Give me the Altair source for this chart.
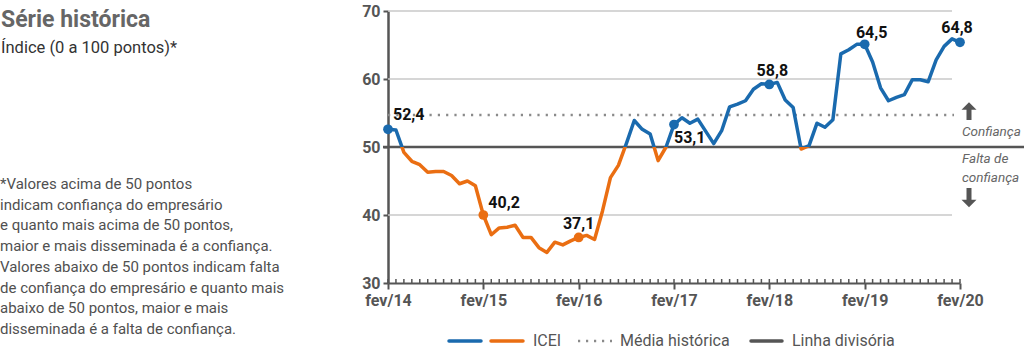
import json
import altair as alt
import pandas as pd

# ---------------- data ----------------
TICK_LABELS = ["fev/14", "fev/15", "fev/16", "fev/17", "fev/18", "fev/19", "fev/20"]
ICEI = [52.6, 52.5, 49.2, 47.9, 47.4, 46.3, 46.4, 46.4, 45.8, 44.6, 45.0, 44.3,
        40.0, 37.1, 38.1, 38.2, 38.5, 36.7, 36.7, 35.2, 34.5, 36.0, 35.6, 36.2,
        36.7, 37.0, 36.4, 40.6, 45.5, 47.3, 50.5, 53.9, 52.6, 51.9, 48.0, 50.0,
        53.3, 54.3, 53.5, 54.1, 52.3, 50.5, 52.4, 55.9, 56.3, 56.8, 58.5, 59.3,
        59.2, 59.5, 56.9, 55.8, 49.7, 50.2, 53.5, 52.9, 54.0, 63.7, 64.3, 65.1,
        65.1, 62.5, 58.7, 56.8, 57.3, 57.7, 59.9, 59.9, 59.6, 62.8, 64.8, 65.9,
        65.4]
LABEL_MONTHS = [0, 12, 24, 36, 48, 60, 72]
LABEL_TEXTS = ["52,4", "40,2", "37,1", "53,1", "58,8", "64,5", "64,8"]
MEAN = 54.7
DIVIDE = 50
GRID_LEVELS = [40, 60, 70]
Y_TICKS = [30, 40, 50, 60, 70]
NOTE_LINES = [
    "*Valores acima de 50 pontos",
    "indicam confiança do empresário",
    "e quanto mais acima de 50 pontos,",
    "maior e mais disseminada é a confiança.",
    "Valores abaixo de 50 pontos indicam falta",
    "de confiança do empresário e quanto mais",
    "abaixo de 50 pontos, maior e mais",
    "disseminada é a falta de confiança.",
]
TITLE = "Série histórica"
SUBTITLE = "Índice (0 a 100 pontos)*"

# ---------------- styling ----------------
BLUE = "#1a6aae"
ORANGE = "#ea6e12"
DARK = "#555555"
GRID = "#c8c8c8"
DOT = "#8a8a8a"
FONT = "Roboto"

W, H = 572, 272
L, T = 388, 11
R = 1024 - L - W
B = 353 - T - H

N = len(ICEI)
df = pd.DataFrame({"m": list(range(N)), "v": ICEI})

xs = alt.Scale(domain=[0, N - 1], nice=False, zero=False)
ys = alt.Scale(domain=[30, 70], nice=False, zero=False)

label_expr = json.dumps(TICK_LABELS) + "[round(datum.value / 12)]"

x_axis = alt.Axis(values=list(range(0, N, 12)), labelExpr=label_expr, title=None,
                  grid=False, tickSize=6, tickWidth=2, tickColor=DARK,
                  domainColor=DARK, domainWidth=2, labelFont=FONT,
                  labelFontWeight="bold", labelFontSize=16, labelColor=DARK,
                  labelPadding=3, labelFlush=False)
y_axis = alt.Axis(values=Y_TICKS, title=None, grid=False, tickSize=5, tickWidth=2,
                  tickColor=DARK, domainColor=DARK, domainWidth=2.5,
                  labelFont=FONT, labelFontWeight="bold", labelFontSize=16,
                  labelColor=DARK, labelPadding=3)


def XQ(field):
    return alt.X(field, type="quantitative", scale=xs, axis=x_axis)


def YQ(field):
    return alt.Y(field, type="quantitative", scale=ys, axis=y_axis)


# light grid lines
grid = alt.Chart(pd.DataFrame({"g": GRID_LEVELS})).mark_rule(
    color=GRID, strokeWidth=1.5).encode(
    y=YQ("g"), x=alt.value(0), x2=alt.value(564))

# historical mean (dotted)
mean_rule = alt.Chart(pd.DataFrame({"a": [MEAN]})).mark_rule(
    color=DOT, strokeWidth=2.5, strokeDash=[2.2, 6.1]).encode(
    y=YQ("a"), x=alt.value(0), x2=alt.value(566))

# dividing line at 50
divide_rule = alt.Chart(pd.DataFrame({"a": [DIVIDE]})).mark_rule(
    color=DARK, strokeWidth=2.5).encode(
    y=YQ("a"), x=alt.value(-5), x2=alt.value(1024 - L))

# monthly minor ticks
minor = alt.Chart(pd.DataFrame({"m": list(range(N))})).mark_rule(
    color=DARK, strokeWidth=1.5).encode(
    x=XQ("m"), y=alt.value(H - 4), y2=alt.value(H))

# line coloured blue above 50, orange below
vmax, vmin = max(ICEI), min(ICEI)
off = (vmax - DIVIDE) / (vmax - vmin)
grad = alt.Gradient(gradient="linear", x1=0, x2=0, y1=0, y2=1, stops=[
    alt.GradientStop(color=BLUE, offset=0),
    alt.GradientStop(color=BLUE, offset=off),
    alt.GradientStop(color=ORANGE, offset=off),
    alt.GradientStop(color=ORANGE, offset=1),
])
line = alt.Chart(df).mark_line(color=grad, strokeWidth=3.5, strokeJoin="round").encode(
    x=XQ("m"), y=YQ("v"))

lab_df = pd.DataFrame({"m": LABEL_MONTHS, "v": [ICEI[i] for i in LABEL_MONTHS],
                       "t": LABEL_TEXTS})
dots = alt.Chart(lab_df).mark_circle(size=95, opacity=1).encode(
    x=XQ("m"), y=YQ("v"),
    color=alt.condition(f"datum.v >= {DIVIDE}", alt.value(BLUE), alt.value(ORANGE)))

# per-label offsets (dx, dy, align)
LABEL_STYLE = [(5, -14, "left"), (5, -12, "left"), (0, -13, "center"),
               (0, 13.5, "left"), (3, -13, "center"), (7, -11, "center"),
               (-3, -14, "center")]
label_layers = []
for m, (dx, dy, al) in zip(LABEL_MONTHS, LABEL_STYLE):
    label_layers.append(
        alt.Chart(lab_df).transform_filter(f"datum.m == {m}").mark_text(
            dx=dx, dy=dy, align=al, baseline="middle", font=FONT,
            fontWeight="bold", fontSize=16, color="#111111").encode(
            x=XQ("m"), y=YQ("v"), text="t:N"))

one = pd.DataFrame({"k": [0]})


def txt(text, x, y, size, color, weight="normal", style="normal", align="left",
        baseline="alphabetic", font=FONT, line_height=None):
    kw = dict(text=text, align=align, baseline=baseline, font=font, fontSize=size,
              color=color, fontWeight=weight, fontStyle=style)
    if line_height is not None:
        kw["lineHeight"] = line_height
    return alt.Chart(one).mark_text(**kw).encode(x=alt.value(x), y=alt.value(y))


def seg(x1, x2, y, color, width, dash=None, cap="round"):
    kw = dict(color=color, strokeWidth=width, strokeCap=cap)
    if dash is not None:
        kw["strokeDash"] = dash
    return alt.Chart(one).mark_rule(**kw).encode(
        x=alt.value(x1), x2=alt.value(x2), y=alt.value(y))


def vseg(x, y1, y2, color, width):
    return alt.Chart(one).mark_rule(color=color, strokeWidth=width, strokeCap="butt").encode(
        x=alt.value(x), y=alt.value(y1), y2=alt.value(y2))


def head(x, y, up=True):
    path = "M-1,0.5L1,0.5L0,-0.5Z" if up else "M-1,-0.5L1,-0.5L0,0.5Z"
    return alt.Chart(one).mark_point(shape=path, filled=True, size=225, color=DARK,
                                     opacity=1, strokeWidth=0).encode(
        x=alt.value(x), y=alt.value(y))


texts = [
    txt(TITLE, -387, 16, 23, "#666666", weight="bold"),
    txt(SUBTITLE, -387, 42, 16.5, "#333333"),
    txt(NOTE_LINES, -388, 178, 15, "#505050", line_height=20.7),
    txt("Confiança", 574, 121, 13.5, "#666666", style="italic", baseline="middle"),
    txt(["Falta de", "confiança"], 574, 148, 13.5, "#666666", style="italic",
        baseline="middle", line_height=19),
    vseg(581, 97, 109, DARK, 5), head(581, 95, up=True),
    vseg(581, 177, 189, DARK, 5), head(581, 192.5, up=False),
]

legend = [
    seg(61, 93, 330, BLUE, 3.5),
    seg(103, 135, 330, ORANGE, 3.5),
    txt("ICEI", 145, 330, 16, DARK, baseline="middle"),
    seg(190, 224, 330, DOT, 2.5, dash=[2.2, 5.8], cap="butt"),
    txt("Média histórica", 232, 330, 16, DARK, baseline="middle"),
    seg(363, 394, 330, DARK, 3.5),
    txt("Linha divisória", 404, 330, 16, DARK, baseline="middle"),
]

chart = alt.layer(
    grid, mean_rule, divide_rule, minor, line, dots, *label_layers, *texts, *legend
).properties(
    width=W, height=H,
    padding={"left": L, "top": T, "right": R, "bottom": B},
    autosize=alt.AutoSizeParams(type="none"),
).configure(background="white", view=alt.ViewConfig(stroke=None))

chart.save("out.html", embed_options={"renderer": "svg", "actions": False})
